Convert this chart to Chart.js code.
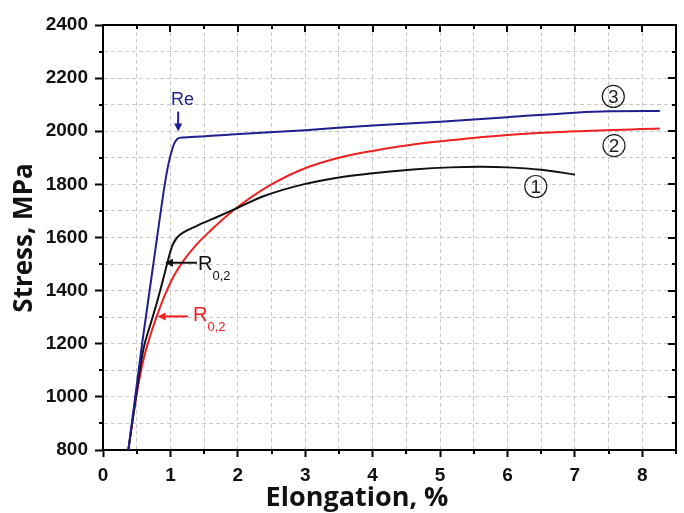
<!DOCTYPE html>
<html>
<head>
<meta charset="utf-8">
<script src="https://cdn.jsdelivr.net/npm/chart.js@4"></script>
<style>
  html, body { margin: 0; padding: 0; background: #fff; }
</style>
</head>
<body>
<canvas id="stressChart" width="684" height="513"></canvas>
<script>
// === curve data (elongation %, stress MPa) ===
// curve 1 - black
const elong1 = [0.376, 0.5, 0.6, 0.7, 0.8, 0.9, 0.97, 1.03, 1.1, 1.2, 1.4, 1.7, 2.0, 2.4, 2.97, 3.5, 4.0, 4.6, 5.15, 5.6, 6.0, 6.5, 7.0];
const stress1 = [800, 1020, 1180, 1270, 1355, 1450, 1520, 1570, 1600, 1620, 1645, 1678, 1712, 1757, 1800, 1826, 1842, 1856, 1864, 1866, 1864, 1855, 1837];
// curve 2 - red
const elong2 = [0.376, 0.45, 0.52, 0.6, 0.7, 0.8, 0.92, 1.05, 1.2, 1.4, 1.6, 1.9, 2.2, 2.5, 2.97, 3.5, 4.0, 4.6, 5.15, 6.0, 7.0, 8.26];
const stress2 = [800, 930, 1040, 1140, 1230, 1305, 1385, 1455, 1515, 1577, 1627, 1695, 1752, 1800, 1858, 1900, 1926, 1950, 1966, 1986, 2000, 2010];
// curve 3 - blue
const elong3 = [0.376, 0.58, 0.78, 0.95, 1.05, 1.10, 1.13, 1.3, 1.9, 3.0, 4.0, 5.0, 6.0, 7.0, 7.5, 8.26];
const stress3 = [800, 1200, 1560, 1850, 1950, 1970, 1975, 1978, 1988, 2004, 2022, 2036, 2053, 2070, 2075, 2076];

const curveNames = ['1', '2', '3'];

// axis ranges
const xMin = 0, xMax = 8.5, xStep = 0.5;
const yMin = 800, yMax = 2400, yStep = 100;

// annotation anchors in data units
const reTip = [1.115, 1999], reTail = [1.115, 2074], reLabel = [1.18, 2116];
const r02BlackTip = [0.92, 1505], r02BlackTail = [1.395, 1505], r02BlackLabel = [1.41, 1500];
const r02RedTip = [0.81, 1303], r02RedTail = [1.26, 1303], r02RedLabel = [1.335, 1307];
const circlePos = [[6.42, 1792], [7.58, 1946], [7.57, 2131]];

const BLACK = '#111111', RED = '#ee2020', BLUE = '#1f1f8f';
const titleFont = "bold 26px 'Open Sans', sans-serif";
const noteFont = "'Liberation Sans', Arial, sans-serif";
const tickFamily = "'Liberation Sans', Arial, sans-serif";

const toPoints = (xs, ys) => xs.map((x, i) => ({ x: x, y: ys[i] }));

const line = (label, xs, ys, color, order) => ({
  label: label,
  data: toPoints(xs, ys),
  borderColor: color,
  borderWidth: 2,
  pointRadius: 0,
  fill: false,
  cubicInterpolationMode: 'monotone',
  order: order
});

function arrow(ctx, x1, y1, x2, y2, color) {
  const a = Math.atan2(y2 - y1, x2 - x1);
  ctx.strokeStyle = color;
  ctx.fillStyle = color;
  ctx.lineWidth = 2;
  ctx.beginPath();
  ctx.moveTo(x1, y1);
  ctx.lineTo(x2 - 5 * Math.cos(a), y2 - 5 * Math.sin(a));
  ctx.stroke();
  ctx.beginPath();
  ctx.moveTo(x2, y2);
  ctx.lineTo(x2 - 8 * Math.cos(a) + 4 * Math.sin(a), y2 - 8 * Math.sin(a) - 4 * Math.cos(a));
  ctx.lineTo(x2 - 8 * Math.cos(a) - 4 * Math.sin(a), y2 - 8 * Math.sin(a) + 4 * Math.cos(a));
  ctx.closePath();
  ctx.fill();
}

// frame, minor ticks, notes and axis titles
const extras = {
  id: 'extras',
  afterDraw(chart) {
    const { ctx, chartArea: a, scales: { x, y } } = chart;
    const px = p => [x.getPixelForValue(p[0]), y.getPixelForValue(p[1])];
    ctx.save();

    // top + right border
    ctx.strokeStyle = '#000';
    ctx.lineWidth = 2;
    ctx.beginPath();
    ctx.moveTo(a.left, a.top);
    ctx.lineTo(a.right, a.top);
    ctx.lineTo(a.right, a.bottom);
    ctx.stroke();

    // ticks: minor outside, mirrored inside on top/right
    ctx.beginPath();
    for (let v = xMin; v <= xMax + 1e-9; v += xStep) {
      const p = Math.round(x.getPixelForValue(v));
      const major = Math.abs(v - Math.round(v)) < 1e-9;
      if (!major) { ctx.moveTo(p, a.bottom); ctx.lineTo(p, a.bottom + 4); }
      ctx.moveTo(p, a.top); ctx.lineTo(p, a.top + (major ? 7 : 4));
    }
    for (let v = yMin; v <= yMax; v += yStep) {
      const p = Math.round(y.getPixelForValue(v));
      const major = v % 200 === 0;
      if (!major) { ctx.moveTo(a.left - 4, p); ctx.lineTo(a.left, p); }
      ctx.moveTo(a.right, p); ctx.lineTo(a.right - (major ? 8 : 4), p);
    }
    ctx.stroke();

    // Re
    const t = px(reTail), h = px(reTip), l = px(reLabel);
    arrow(ctx, t[0], t[1], h[0], h[1], BLUE);
    ctx.fillStyle = BLUE;
    ctx.font = '18px ' + noteFont;
    ctx.textAlign = 'center';
    ctx.textBaseline = 'middle';
    ctx.fillText('Re', l[0], l[1]);

    // R0,2 labels
    const r02 = (tail, tip, lab, color) => {
      const tt = px(tail), hh = px(tip), ll = px(lab);
      arrow(ctx, tt[0], tt[1], hh[0], hh[1], color);
      ctx.fillStyle = color;
      ctx.textAlign = 'left';
      ctx.textBaseline = 'middle';
      ctx.font = '20px ' + noteFont;
      ctx.fillText('R', ll[0], ll[1]);
      const w = ctx.measureText('R').width;
      ctx.font = '13px ' + noteFont;
      ctx.fillText('0,2', ll[0] + w, ll[1] + 12);
    };
    r02(r02BlackTail, r02BlackTip, r02BlackLabel, BLACK);
    r02(r02RedTail, r02RedTip, r02RedLabel, RED);

    // circled curve numbers
    circlePos.forEach((c, i) => {
      const p = px(c);
      ctx.strokeStyle = '#222';
      ctx.lineWidth = 1.2;
      ctx.beginPath();
      ctx.arc(p[0], p[1], 11, 0, Math.PI * 2);
      ctx.stroke();
      ctx.fillStyle = '#222';
      ctx.font = '19px ' + noteFont;
      ctx.textAlign = 'center';
      ctx.textBaseline = 'middle';
      ctx.fillText(curveNames[i], p[0], p[1] + 1);
    });

    // axis titles
    ctx.fillStyle = '#111';
    ctx.textAlign = 'center';
    ctx.textBaseline = 'middle';
    ctx.font = "bold 27px 'Open Sans', sans-serif";
    ctx.fillText('Elongation, %', 357, 498);
    ctx.font = titleFont;
    ctx.translate(25, 238);
    ctx.rotate(-Math.PI / 2);
    ctx.fillText('Stress, MPa', 0, 0);
    ctx.restore();
  }
};

new Chart(document.getElementById('stressChart').getContext('2d'), {
  type: 'line',
  data: {
    datasets: [
      line('1', elong1, stress1, BLACK, 2),
      line('2', elong2, stress2, RED, 3),
      line('3', elong3, stress3, BLUE, 1)
    ]
  },
  options: {
    responsive: false,
    animation: false,
    devicePixelRatio: 1,
    layout: { padding: { top: 25, right: 8, left: 0, bottom: 0 } },
    plugins: { legend: { display: false }, tooltip: { enabled: false } },
    scales: {
      x: {
        type: 'linear',
        min: xMin, max: xMax,
        afterFit: s => { s.height = 63; },
        ticks: {
          stepSize: xStep,
          autoSkip: false,
          maxRotation: 0,
          padding: 7,
          color: '#111',
          font: { family: tickFamily, size: 19, weight: 'bold' },
          callback: v => Number.isInteger(v) ? v : ''
        },
        grid: {
          color: '#c8c8c8',
          lineWidth: 1,
          tickLength: 7,
          tickWidth: 2,
          tickColor: c => (c.tick && Number.isInteger(c.tick.value)) ? '#000' : 'rgba(0,0,0,0)'
        },
        border: { display: true, color: '#000', width: 2, dash: [4, 3] }
      },
      y: {
        min: yMin, max: yMax,
        afterFit: s => { s.width = 103; },
        ticks: {
          stepSize: yStep,
          autoSkip: false,
          padding: 7,
          color: '#111',
          font: { family: tickFamily, size: 19, weight: 'bold' },
          callback: v => v % 200 === 0 ? v : ''
        },
        grid: {
          color: '#c8c8c8',
          lineWidth: 1,
          tickLength: 8,
          tickWidth: 2,
          tickColor: c => (c.tick && c.tick.value % 200 === 0) ? '#000' : 'rgba(0,0,0,0)'
        },
        border: { display: true, color: '#000', width: 2, dash: [4, 3] }
      }
    }
  },
  plugins: [extras]
});
</script>
</body>
</html>
